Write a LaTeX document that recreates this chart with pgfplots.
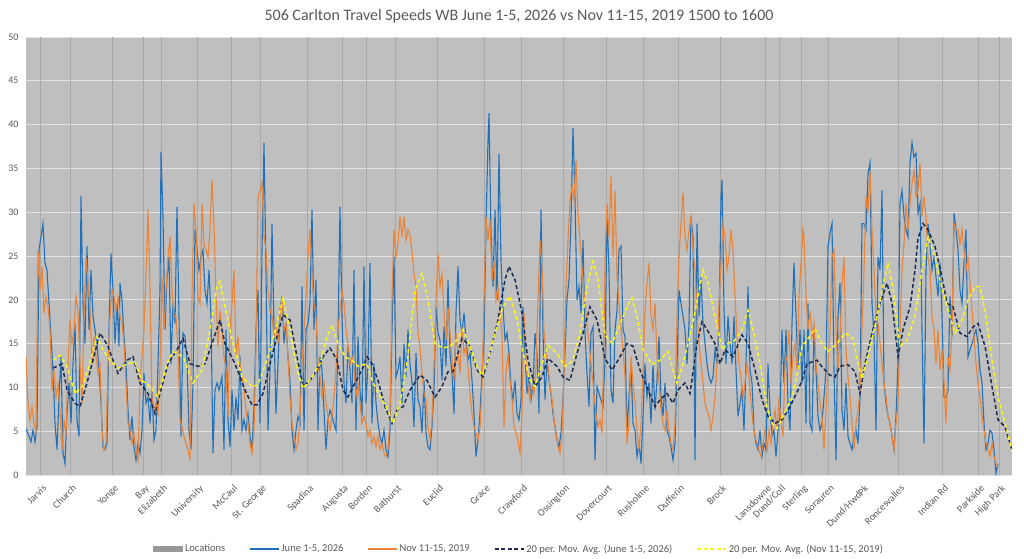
\documentclass[border=0pt]{standalone}
\usepackage{pgfplots}
\pgfplotsset{compat=1.18}
\usepackage{fontspec}
\setmainfont{Carlito}
\definecolor{bgc}{HTML}{BFBFBF}
\definecolor{locc}{HTML}{A9A9A9}
\definecolor{gridc}{HTML}{E4E4E4}
\definecolor{txt}{HTML}{595959}
\definecolor{blu}{HTML}{2271B8}
\definecolor{ora}{HTML}{EB8436}
\definecolor{nav}{HTML}{1C2B50}
\definecolor{yel}{HTML}{F7F71E}
\begin{document}
\begin{tikzpicture}
\useasboundingbox (0,0) rectangle (1024pt,558pt);
\node[text=txt, font=\fontsize{16}{18}\selectfont] at (519pt,542pt) {506 Carlton Travel Speeds WB June 1-5, 2026 vs Nov 11-15, 2019 1500 to 1600};
\begin{axis}[
 at={(26pt,83pt)}, anchor=south west, scale only axis, width=986pt, height=438pt,
 xmin=26, xmax=1012, ymin=0, ymax=50,
 axis background/.style={fill=bgc},
 axis line style={draw=none},
 major tick length=0pt,
 ytick={0,5,...,50}, ymajorgrids, grid style={gridc, line width=0.9pt},
 xtick={40,70,112,143,161,197,231,260,307,342,366,395,437,484,521,563,606,643,678,720,765,779,801,828,862,898,942,978,999},
 xticklabels={Jarvis,Church,Yonge,Bay,Elizabeth,University,McCaul,St. George,Spadina,Augusta,Borden,Bathurst,Euclid,Grace,Crawford,Ossington,Dovercourt,Rusholme,Dufferin,Brock,Lansdowne,Dund/Coll,Sterling,Sorauren,Dund/HwdPk,Roncesvalles,Indian Rd,Parkside,High Park},
 xticklabel style={xshift=2pt, yshift=-9pt, rotate=45, anchor=north east, font=\fontsize{10}{11}\selectfont, text=txt, inner sep=0pt},
 yticklabel style={font=\fontsize{10}{11}\selectfont, text=txt, xshift=-4pt},
 /pgf/number format/assume math mode=true,
 legend image code/.code={\draw[#1] (0pt,0pt) -- (29pt,0pt);},
 legend style={at={(0.5,-0.169)}, anchor=center, legend columns=5, draw=none, fill=none,
   font=\fontsize{10.5}{11}\selectfont, text=txt,
   /tikz/every even column/.append style={column sep=22pt}},
]
\addplot[ycomb, draw=locc, line width=1pt, no marks,
  legend image code/.code={\fill[locc!90!black] (0pt,-2.5pt) rectangle (29pt,2.5pt);}]
 coordinates {(40,50)(70,50)(112,50)(143,50)(161,50)(197,50)(231,50)(260,50)(307,50)(342,50)(366,50)(395,50)(437,50)(484,50)(521,50)(563,50)(606,50)(643,50)(678,50)(720,50)(765,50)(779,50)(801,50)(828,50)(898,50)(942,50)(978,50)(999,50)};
\addlegendentry{Locations}
\addplot[blu, line width=1.1pt, no marks] coordinates {
(26,5.3)(29,4.4)(31,3.8)(33,5.1)(35,3.8)(37,5.5)(39,25.7)(41,27.2)(43,28.7)(45,24.2)(47,23.4)(49,19.6)(51,15.8)(53,12)(55,5.9)(57,2.9)(59,8.9)(61,13.5)(63,2.5)(65,1.3)(67,7)(69,10.5)(71,5.9)(73,12.7)(75,17.3)(77,6.3)(79,4.4)(81,31.8)(83,19.6)(85,15)(87,26.1)(89,16.6)(91,23.4)(93,18.1)(95,16.6)(97,15)(99,12)(101,8.2)(103,3.2)(105,2.9)(107,3.6)(109,16.6)(111,25.3)(113,21.1)(115,15)(117,19.6)(119,14.7)(120,21.9)(122,20)(124,15.8)(126,12.7)(128,7.4)(130,4)(132,6.7)(134,3.2)(136,1.7)(138,3.6)(140,2.5)(142,5.1)(144,11.6)(146,8.2)(148,8.9)(150,5.9)(152,9.7)(154,4)(156,5.1)(158,12.7)(160,21.1)(161,36.9)(163,29.5)(165,16.6)(167,22.6)(169,24.9)(171,12.7)(173,19.6)(175,17.3)(177,30.6)(179,18.1)(181,4.4)(183,16.2)(185,15.8)(187,13.1)(189,5.1)(191,2.9)(193,10.5)(195,28)(197,25.7)(199,23.4)(201,24.9)(203,25.7)(205,21.1)(207,19.6)(209,23.4)(211,18.1)(213,2.5)(215,9.7)(217,10.5)(219,9.7)
(222,11.2)(224,2.9)(226,16.6)(228,6.3)(230,3.2)(232,9.7)(234,5.1)(236,8.9)(238,6.3)(240,13.5)(242,5.1)(244,6.3)(246,5.1)(248,7)(250,4.4)(252,2.9)(254,7.8)(256,16.6)(258,21.1)(260,5.9)(262,25.7)(264,37.9)(266,23.4)(268,5.1)(270,12)(272,28.7)(274,16.6)(276,7)(278,12.7)(280,18.8)(282,20.4)(284,15)(286,17.3)(288,13.5)(290,10.8)(292,5.1)(294,2.9)(296,5.1)(298,6.7)(300,5.9)(302,21.5)(304,5.1)(306,16.6)(308,17.3)(310,19.6)(312,30.3)(314,16.6)(316,22.3)(318,5.1)(320,13.5)(322,12)(324,7.4)(326,2.9)(328,6.3)(330,7.4)(332,6.7)(334,5.9)(336,5.1)(338,15.8)(340,30.6)(342,18.1)(344,10.5)(346,8.2)(348,14.7)(350,12)(352,8.2)(354,23.4)(356,5.1)(358,15.8)(360,9.7)(362,6.7)(364,23.8)(366,8.2)(368,12.7)(370,24.2)(372,5.9)(374,12.7)(376,8.2)(378,5.9)(380,4.4)(382,3.6)(384,5.1)(386,2.9)(388,2.1)(390,5.1)(392,16.6)(394,24.9)(396,11.2)(398,12)(400,13.5)(402,8.2)(404,15)(406,11.2)(408,16.6)(410,12.7)(412,10.5)
(414,5.5)(416,13.9)(418,8.6)(420,7.8)(422,4.8)(424,10.8)(426,4.8)(428,3.2)(430,2.9)(432,5.5)(434,9.7)(436,19.2)(438,16.2)(440,15.4)(442,10.8)(444,16.9)(446,12.4)(448,22.3)(450,13.9)(452,11.6)(454,7)(456,18.5)(458,23.8)(460,17.7)(462,16.2)(464,18.5)(466,15.4)(468,13.1)(470,13.9)(472,10.8)(474,7)(476,2.1)(478,4)(480,7)(482,11.6)(484,15.4)(486,28.3)(488,38.2)(489,41.3)(491,27.6)(493,21.5)(495,30.3)(497,20)(499,36.7)(501,24.5)(503,19.2)(505,15.4)(507,16.2)(509,13.9)(511,10.1)(513,8.6)(515,10.8)(517,7)(519,6.3)(521,8.6)(523,19.2)(525,13.9)(527,9.3)(529,11.6)(531,8.6)(533,10.1)(535,16.2)(537,13.9)(539,7)(541,30.3)(543,16.2)(545,8.6)(547,13.1)(549,10.8)(551,9.3)(553,7)(555,5.5)(557,4)(559,3.2)(561,4.8)(563,8.6)(565,13.9)(567,20)(569,22.3)(571,29.1)(573,39.6)(575,31.4)(577,20)(579,21.5)(581,18.5)(583,26.8)(585,16.2)(587,11.6)(589,7.8)(591,16.2)(593,16.9)(595,1.7)(597,10.1)(599,9.3)(601,8.6)(603,7.8)(605,13.1)
(607,29.5)(609,23.4)(611,9.7)(613,8.2)(615,16.6)(617,18.8)(619,25.7)(621,26.1)(623,16.6)(625,15.8)(627,5.1)(629,8.9)(631,12.7)(633,5.9)(635,5.1)(637,2.1)(639,3.6)(641,1.3)(643,6.7)(645,12.7)(647,8.9)(649,10.5)(651,5.9)(653,12.7)(655,7.4)(657,10.8)(659,15.8)(661,8.9)(663,6.7)(665,10.5)(667,5.1)(669,4.4)(671,3.2)(673,1.7)(675,3.6)(677,12.7)(679,21.1)(681,19.6)(683,18.1)(685,16.6)(687,12.7)(689,17.3)(691,29.5)(693,27.2)(695,1.7)(697,28.7)(699,18.1)(701,22.6)(703,17.3)(705,15)(707,12.7)(709,11.2)(711,10.5)(713,11.2)(715,14.3)(717,12.7)(719,16.6)(721,31.8)(722,33.7)(724,18.8)(726,12.7)(728,18.1)(730,15)(732,12.7)(734,18.1)(736,12)(738,6.7)(740,8.2)(742,9.7)(744,5.1)(746,12.7)(748,21.5)(750,12)(752,10.5)(754,5.1)(756,3.6)(758,2.9)(760,5.1)(762,2.1)(764,3.6)(766,2.9)(768,12.7)(770,7.4)(772,4.4)(774,5.1)(776,2.1)(778,5.1)(780,6.7)(782,16.6)(784,10.5)(786,16.6)(788,8.2)(790,5.1)(792,17.3)(794,24.2)(796,18.1)(798,12)(800,16.6)
(802,10.5)(804,16.6)(806,5.9)(808,19.6)(810,5.9)(812,5.1)(814,16.6)(816,12)(818,6.7)(820,5.1)(822,5.9)(824,8.9)(826,12)(828,26.1)(830,27.6)(832,28.7)(834,12)(836,1.7)(838,18.1)(840,21.9)(842,7.4)(844,5.1)(846,10.5)(848,4.4)(850,3.6)(852,2.9)(854,4.4)(856,5.1)(858,3.6)(860,8.9)(862,28.7)(864,28.7)(866,28)(868,34.4)(870,35.6)(872,19.6)(874,15.8)(876,5.1)(878,24.9)(880,23.4)(882,32.5)(884,10.5)(886,8.2)(888,6.7)(890,5.9)(892,4.4)(894,2.9)(896,6.7)(898,12.7)(900,31)(902,32.5)(904,29.5)(906,28)(908,27.2)(910,35.6)(912,37.9)(914,36.3)(916,36.7)(918,29.9)(920,31)(922,16.6)(924,3.6)(926,23.4)(928,28.7)(930,26.4)(932,23.4)(934,24.9)(936,22.6)(938,20.4)(940,24.2)(942,18.1)(944,8.9)(946,8.9)(948,9.7)(950,20.4)(952,15.8)(954,29.9)(956,28)(958,25.7)(960,21.1)(962,19.6)(964,24.2)(966,28)(968,13.5)(970,14.3)(972,15)(974,15.8)(976,16.6)(978,15)(980,12)(982,10.5)(984,5.9)(986,2.9)(988,3.6)(990,5.1)(992,4.8)(994,2.9)(996,0.2)(998,1.3)};
\addlegendentry{June 1-5, 2026}
\addplot[ora, line width=1.1pt, no marks] coordinates {
(26,13.5)(28,8.2)(30,6.3)(32,7.8)(34,5.9)(36,5.1)(38,25.7)(40,21.1)(42,23.8)(44,18.5)(46,20.4)(48,19.2)(50,16.6)(52,9.7)(54,12)(56,8.9)(58,10.5)(60,7.4)(62,2.9)(64,6.3)(66,4.4)(68,12.7)(70,17.7)(72,15)(74,16.6)(76,20.4)(78,18.8)(80,12.7)(82,8.2)(84,18.1)(86,24.9)(88,21.9)(90,18.8)(92,12.7)(94,15.8)(96,13.5)(98,11.6)(100,12.7)(102,5.1)(104,2.9)(106,3.6)(108,12.7)(110,18.1)(112,21.1)(114,20.4)(116,18.8)(118,20.4)(120,18.1)(122,17.3)(124,15)(126,10.5)(128,5.9)(130,5.1)(132,3.6)(134,4.7)(136,2.9)(138,1.7)(140,10.5)(142,13.5)(144,16.6)(146,23)(148,30.3)(150,21.1)(152,8.9)(154,7.4)(156,8.2)(158,6.7)(160,12.7)(162,22.6)(164,16.6)(166,21.1)(168,24.9)(170,27.2)(172,21.1)(174,18.1)(176,18.1)(178,14.3)(180,6.3)(182,5.5)(184,4.4)(186,3.6)(188,2.9)(190,1.7)(192,20.4)(194,31)(196,28)(198,20.4)(200,19.6)(202,31)(204,26.4)(206,25.7)(208,24.9)(210,28)(212,33.7)(214,28.7)(216,20.4)(218,14.7)
(220,18.8)(222,16.6)(224,13.5)(226,12)(228,6.7)(230,16.6)(232,19.6)(234,23.4)(236,13.5)(238,15.8)(240,12.7)(242,11.2)(244,9.7)(246,7.4)(248,5.9)(250,3.6)(252,2.5)(254,5.1)(256,14.7)(258,31.8)(260,32.5)(262,33.3)(264,27.2)(266,25.7)(268,21.1)(270,18.8)(272,18.1)(274,15.8)(276,17.3)(278,15)(280,18.1)(282,20.4)(284,16.6)(286,17.3)(288,13.5)(290,8.9)(292,5.9)(294,4.4)(296,2.9)(298,3.6)(300,6.7)(302,12.7)(304,16.6)(306,20.4)(308,24.9)(310,28)(312,22.6)(314,19.6)(316,18.1)(318,12.7)(320,11.2)(322,8.9)(324,10.5)(326,8.2)(328,6.7)(330,5.1)(332,6.7)(334,8.9)(336,12)(338,16.6)(340,18.8)(342,21.1)(344,19.6)(346,16.6)(348,15)(350,12.7)(352,13.5)(354,12)(356,8.9)(358,10.5)(360,8.2)(362,5.9)(364,6.7)(366,5.9)(368,4.4)(370,5.1)(372,3.6)(374,4.4)(376,3.2)(378,4.4)(380,2.9)(382,3.6)(384,2.5)(386,2.1)(388,2.9)(390,6.7)(392,20.4)(394,28)(396,24.9)(398,26.4)(400,29.5)(402,27.2)(404,29.5)(406,26.8)(408,28)(410,27.4)(412,25.5)
(414,23)(416,21.5)(418,16.2)(420,14.7)(422,11.6)(424,9.3)(426,8.6)(428,5.5)(430,4)(432,6.3)(434,12.4)(436,20)(438,25.3)(440,21.5)(442,23)(444,18.5)(446,15.4)(448,19.2)(450,16.2)(452,13.1)(454,10.8)(456,16.2)(458,13.9)(460,11.6)(462,16.9)(464,13.9)(466,14.7)(468,12.4)(470,9.3)(472,7)(474,5.5)(476,4.8)(478,4)(480,5.5)(482,10.1)(484,20)(486,29.5)(488,26.8)(490,29.1)(492,22.3)(494,24.5)(496,20)(498,21.5)(500,18.5)(502,16.2)(504,5.5)(506,11.6)(508,13.9)(510,10.8)(512,8.6)(514,5.5)(516,4.8)(518,4)(520,2.5)(522,7)(524,18.5)(526,13.1)(528,10.1)(530,8.6)(532,10.1)(534,9.3)(536,12.4)(538,20)(540,26.8)(542,23.8)(544,16.2)(546,13.9)(548,12.4)(550,10.1)(552,8.6)(554,6.3)(556,4.8)(558,3.2)(560,2.5)(562,4.8)(564,11.6)(566,21.5)(568,26.8)(570,31.4)(572,32.9)(574,31.4)(576,36)(578,29.9)(580,26.8)(582,23.8)(584,20.7)(586,18.5)(588,16.2)(590,13.9)(592,11.6)(594,9.3)(596,7)(598,5.5)(600,6.3)(602,4.8)(604,16.2)
(605,24.9)(607,31)(609,27.2)(611,34.1)(613,24.9)(615,32.5)(617,22.6)(619,19.6)(621,16.6)(623,14.3)(625,11.2)(627,3.6)(629,5.9)(631,13.5)(633,10.5)(635,8.2)(637,5.1)(639,2.9)(641,5.9)(643,12)(645,18.8)(647,21.9)(649,24.2)(651,18.1)(653,16.6)(655,19.6)(657,13.5)(659,10.5)(661,7.4)(663,5.9)(665,5.1)(667,7.4)(669,5.1)(671,3.6)(673,2.9)(675,5.9)(677,18.1)(679,24.9)(681,28.7)(683,32.2)(685,27.2)(687,25.7)(689,28)(691,29.5)(693,25.7)(695,23.4)(697,18.8)(699,15)(701,12.7)(703,10.5)(705,8.2)(707,7.4)(709,6.7)(711,5.1)(713,6.7)(715,8.9)(717,12.7)(719,19.6)(721,24.2)(723,28.7)(725,27.2)(727,23.4)(729,24.9)(731,28)(733,25.7)(735,20.4)(737,15.8)(739,12.7)(741,11.2)(743,8.9)(745,10.5)(747,12.7)(749,11.2)(751,8.2)(753,5.9)(755,4.4)(757,3.6)(759,2.9)(761,2.1)(763,3.6)(765,5.1)(767,2.9)(769,5.1)(771,3.6)(773,5.9)(775,7.4)(777,5.1)(779,8.9)(781,5.9)(783,4.4)(785,12.7)(787,13.5)(789,16.6)(791,10.5)(793,13.5)(795,15)(797,12)(799,20.4)(801,24.2)(803,28)
(804,27.2)(806,20.4)(808,16.6)(810,18.8)(812,15.8)(814,17.3)(816,12.7)(818,10.5)(820,8.2)(822,6.7)(824,2.9)(826,7.4)(828,12.7)(830,16.6)(832,24.9)(834,25.7)(836,16.6)(838,12)(840,15.8)(842,21.9)(844,24.9)(846,14.3)(848,11.2)(850,8.9)(852,5.9)(854,2.9)(856,5.9)(858,7.4)(860,9.7)(862,16.6)(864,23.4)(866,31.8)(868,29.9)(870,34.8)(872,28)(874,23.4)(876,18.1)(878,17.3)(880,15)(882,12.7)(884,10.5)(886,8.9)(888,6.7)(890,5.9)(892,4.4)(894,2.9)(896,5.9)(898,8.2)(900,16.6)(902,23.4)(904,26.4)(906,31)(908,28)(910,31)(912,33.3)(914,34.8)(916,31.8)(918,32.5)(920,35.6)(922,29.5)(924,31.8)(926,29.5)(928,24.9)(930,23.4)(932,18.1)(934,16.6)(936,12.7)(938,16.6)(940,12)(942,14.3)(944,10.5)(946,5.9)(948,13.5)(950,12)(952,16.6)(954,28.7)(956,28)(958,28)(960,26.4)(962,28)(964,25.7)(966,23.4)(968,24.9)(970,21.9)(972,18.8)(974,15.8)(976,12.7)(978,10.5)(980,8.9)(982,6.7)(984,5.1)(986,3.6)(988,2.9)(990,2.1)(992,3.6)(994,2.1)(996,1.3)(998,1)};
\addlegendentry{Nov 11-15, 2019}
\addplot[nav, line width=1.5pt, dash pattern=on 4pt off 2.5pt, no marks] coordinates {
(53,12.2)(62,12.7)(67,9.7)(75,8.2)(80,7.8)(87,10.5)(100,16.2)(108,14.7)(113,13.1)(118,11.6)(127,13.1)(133,13.5)(140,10.5)(148,9.3)(155,7)(160,9.3)(168,12.7)(177,14.3)(183,15.6)(190,12.7)(198,12.4)(205,12.7)(212,15)(220,17.7)(225,15)(235,12.7)(245,9.7)(252,8)(257,8)(263,9.3)(270,12.7)(277,15.8)(283,18.3)(290,17.7)(297,13.5)(303,10.1)(310,10.8)(317,12)(323,13.5)(330,14.5)(337,13.1)(343,9.7)(348,8.9)(355,10.5)(362,12)(367,13.5)(372,12.7)(378,10.8)(385,7.8)(392,5.9)(397,7.4)(403,7.8)(410,9.7)(420,11.4)(427,10.8)(435,8.9)(442,10.1)(448,11.8)(453,11.8)(462,15.6)(470,14.7)(477,12)(483,11.2)(490,13.9)(498,17.7)(505,22.3)(509,23.8)(515,22.3)(522,18.5)(528,13.1)(535,10.1)(542,11.2)(548,13.3)(557,12.4)(563,11.2)(570,10.8)(577,13.9)(583,16.2)(590,19.2)(597,17.7)(605,13.3)(612,12)(618,13.1)(627,15)(633,14.7)(640,12)(648,9.7)(655,7.8)(660,8.6)(667,9.3)(673,8.2)(678,9.7)(685,10.5)(690,9.3)(697,15)(702,17.5)(707,16.6)(715,15)(720,12.7)(725,14.3)(733,13.5)(742,16)(748,15)(755,12)(762,8.6)(768,6.7)(775,5.9)(782,6.3)(790,7.8)(798,9.7)(802,10.8)(807,12.7)(817,13.1)(823,12.2)(830,11.4)(835,11.2)(840,12.4)(848,12.6)(855,11.8)(860,9.3)(865,12.7)(872,16.2)(880,19.6)(887,21.9)(892,19.6)(898,13.5)(903,16.6)(910,19.2)(915,23.4)(918,27)(923,28.7)(928,28)(935,26.1)(942,22.6)(947,19.6)(953,19.2)(960,16.2)(967,15.8)(973,16.9)(978,17.3)(985,14.7)(992,10.1)(998,6.3)(1005,5.5)(1012,2.8)};
\addlegendentry{20 per. Mov. Avg. (June 1-5, 2026)}
\addplot[yel, line width=1.5pt, dash pattern=on 4pt off 2.5pt, no marks] coordinates {
(53,13.1)(60,13.7)(67,12.4)(75,9.3)(82,10.1)(88,12)(97,15.8)(103,14.3)(110,13.1)(118,12.2)(127,12.7)(135,12.9)(142,10.8)(150,10.1)(158,8.9)(167,12.7)(173,14.1)(183,13.5)(193,10.5)(202,12)(210,16.6)(217,21.5)(220,22.1)(225,19.2)(233,15)(242,11.2)(252,10.1)(258,10.3)(268,13.5)(277,17.3)(283,20.2)(290,16.6)(297,12)(303,9.9)(312,11.2)(320,12.7)(327,15.8)(332,17.1)(338,15)(345,13.5)(352,13.1)(358,12.4)(367,12.7)(373,10.5)(382,8.6)(388,7.4)(393,5.9)(400,8.2)(407,12.7)(412,18)(415,21.1)(422,23)(428,20)(435,15)(443,14.5)(450,14.7)(457,15.4)(463,16.6)(470,14.7)(477,12.4)(482,11.4)(488,13.1)(495,16.2)(503,19.2)(510,20.4)(517,17.7)(523,13.9)(530,10.8)(535,10.1)(542,12.7)(548,14.8)(557,13.9)(565,12.4)(573,13.1)(580,16.2)(587,21.5)(593,24.4)(598,22.3)(605,16)(612,15)(618,16.6)(627,19.2)(632,20.2)(637,18.1)(643,14.3)(652,12.6)(660,13.1)(668,14.1)(673,12)(677,10.5)(683,12.7)(692,16.9)(698,20.4)(703,23.4)(708,21.9)(715,18.1)(722,14.3)(728,15)(735,15.4)(742,16.6)(748,18.8)(753,16.6)(760,12.7)(767,7.8)(772,5.9)(777,5.3)(783,6.7)(792,8.9)(798,12)(802,14.7)(807,15.4)(815,16.7)(822,15)(828,14.1)(837,15)(845,16.2)(853,15.6)(858,12.7)(862,11)(868,13.5)(877,18.1)(883,21.6)(888,24.2)(893,21.3)(900,14.7)(907,15.4)(915,18.1)(922,23.4)(928,27.2)(935,24.9)(942,21.3)(950,18.1)(955,16.2)(962,17.7)(968,20)(975,21.5)(980,21.5)(985,18.8)(992,13.1)(998,8.9)(1007,5.1)(1012,2.7)};
\addlegendentry{20 per. Mov. Avg. (Nov 11-15, 2019)}
\end{axis}
\end{tikzpicture}
\end{document}
